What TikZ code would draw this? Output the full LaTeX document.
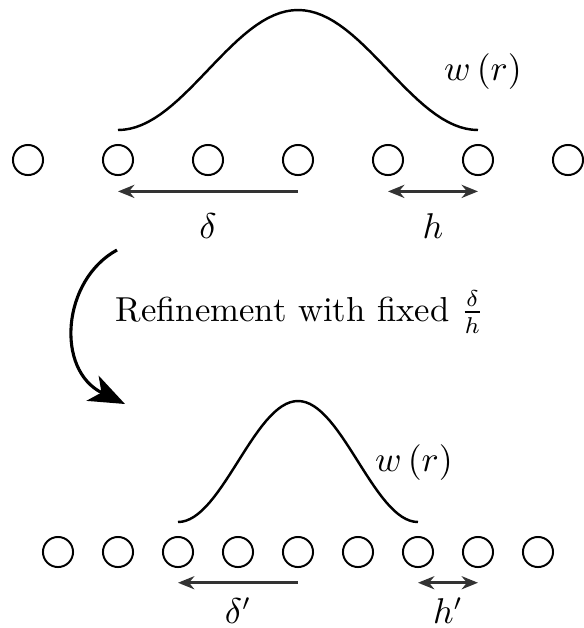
\documentclass[tikz,border=0pt]{standalone}
\usetikzlibrary{arrows.meta,positioning}

\begin{document}
\begin{tikzpicture}[
  x=0.3058pt, y=-0.3058pt,
  font=\fontsize{10.6pt}{13pt}\selectfont,
  dot/.style={draw, circle, line width=0.6pt, minimum size=9.2pt, inner sep=0pt},
  kernel/.style={line width=0.75pt},
  deltaarrow/.style={{Stealth[length=5pt,width=4pt]}-, line width=0.85pt, draw=black!80},
  harrow/.style={{Stealth[length=5pt,width=4pt]}-{Stealth[length=5pt,width=4pt]}, line width=0.85pt, draw=black!80},
  refine/.style={-{Stealth[length=11pt,width=8.5pt,inset=3pt]}, line width=0.95pt},
  lbl/.style={inner sep=0pt}
]
\useasboundingbox (0,0) rectangle (584,628);

% coarse particles
\node[dot] (t1) at (28,160) {};
\node[dot] (t2) at (118,160) {};
\node[dot] (t3) at (208,160) {};
\node[dot] (t4) at (298,160) {};
\node[dot] (t5) at (388,160) {};
\node[dot] (t6) at (478,160) {};
\node[dot] (t7) at (568,160) {};

\draw[kernel] plot[domain=-180:180, samples=61] ({298+\x}, {130-60*(1+cos(\x))});
\node[lbl] (wtop) at (483,72) {$w\left(r\right)$};

\coordinate[below=4.7pt of t4] (da);
\coordinate[below=4.7pt of t5] (ha);
\draw[deltaarrow] (da -| t2) -- node[lbl, below=6.3pt] (dlbl) {$\delta$} (da);
\draw[harrow] (ha) -- node[lbl, below=6.3pt] (hlbl) {$h$} (ha -| t6);

% refinement
\coordinate (rs) at (117,250);
\coordinate (re) at (125,404);
\draw[refine] (rs) .. controls (62,280) and (55,370) .. (re);
\node[lbl, anchor=base west] (note) at (115,321) {Refinement with fixed $\frac{\delta}{h}$};

% fine particles
\node[dot] (b1) at (58,552) {};
\node[dot] (b2) at (118,552) {};
\node[dot] (b3) at (178,552) {};
\node[dot] (b4) at (238,552) {};
\node[dot] (b5) at (298,552) {};
\node[dot] (b6) at (358,552) {};
\node[dot] (b7) at (418,552) {};
\node[dot] (b8) at (478,552) {};
\node[dot] (b9) at (538,552) {};

\draw[kernel] plot[domain=-180:180, samples=61] ({298+\x*2/3}, {522-60.5*(1+cos(\x))});
\node[lbl] (wbot) at (414,463) {$w\left(r\right)$};

\coordinate[below=4.5pt of b5] (db);
\coordinate[below=4.5pt of b7] (hb);
\draw[deltaarrow] (db -| b3) -- node[lbl, below=4.3pt] (dlbl2) {$\delta'$} (db);
\draw[harrow] (hb) -- node[lbl, below=4.3pt] (hlbl2) {$h'$} (hb -| b8);
\end{tikzpicture}
\end{document}
